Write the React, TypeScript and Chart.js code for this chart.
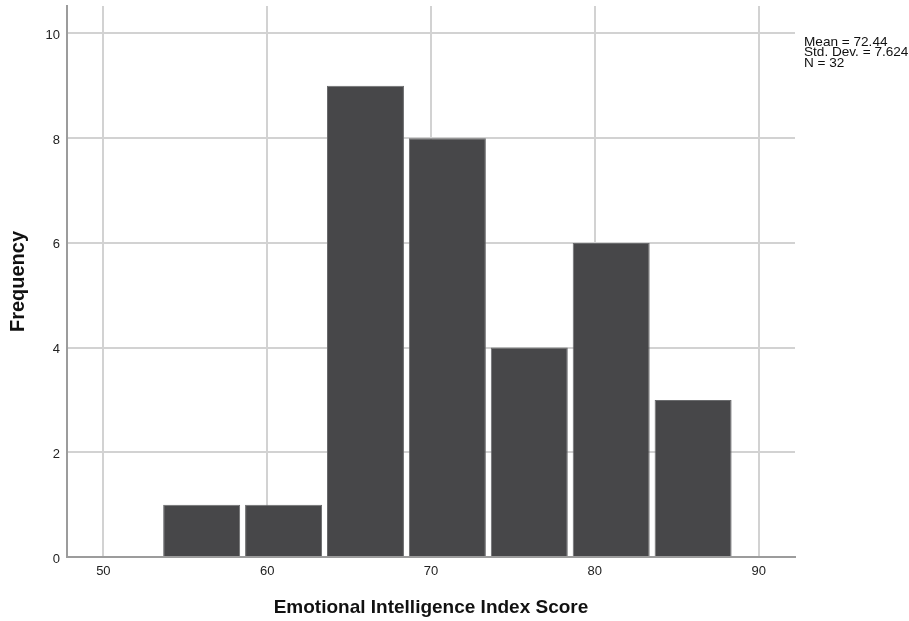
import React, { useEffect, useRef } from "react";
import { Chart, registerables } from "chart.js";

Chart.register(...registerables);

const binCenters = [56, 61, 66, 71, 76, 81, 86];
const frequencies = [1, 1, 9, 8, 4, 6, 3];
const xTicks = [50, 60, 70, 80, 90];
const yTicks = [0, 2, 4, 6, 8, 10];
const statLines = ["Mean = 72.44", "Std. Dev. = 7.624", "N = 32"];
const xTitle = "Emotional Intelligence Index Score";
const yTitle = "Frequency";

const FONT = "'Liberation Sans', Arial, sans-serif";

const statsPlugin = {
  id: "stats",
  afterDraw(chart: any) {
    const ctx = chart.ctx;
    ctx.save();
    ctx.font = `13.6px ${FONT}`;
    ctx.fillStyle = "#111";
    ctx.textAlign = "left";
    ctx.textBaseline = "alphabetic";
    statLines.forEach((t, i) => {
      ctx.fillText(t, chart.chartArea.right + 9, 45.5 + i * 10.8);
    });
    ctx.restore();
  },
};

export default function App() {
  const ref = useRef<HTMLCanvasElement | null>(null);
  useEffect(() => {
    if (!ref.current) return;
    const chart = new Chart(ref.current, {
      type: "bar",
      data: {
        datasets: [
          {
            data: binCenters.map((x, i) => ({ x, y: frequencies[i] })),
            backgroundColor: "#474749",
            borderColor: "#6a6b6d",
            borderWidth: 1,
            borderSkipped: "bottom",
            barPercentage: 0.94,
            categoryPercentage: 1,
          },
        ],
      },
      options: {
        animation: false,
        responsive: false,
        maintainAspectRatio: false,
        layout: { padding: { top: 6, right: 114, left: 0, bottom: 0 } },
        plugins: {
          legend: { display: false },
          tooltip: { enabled: false },
        },
        scales: {
          x: {
            type: "linear",
            min: 47.78,
            max: 92.22,
            offset: false,
            afterFit: (s: any) => {
              s.height = 64;
              s.paddingLeft = 0;
              s.paddingRight = 0;
            },
            afterBuildTicks: (s: any) => {
              s.ticks = xTicks.map((v) => ({ value: v }));
            },
            grid: {
              offset: false,
              color: "#d2d2d2",
              lineWidth: 2,
              drawTicks: false,
            },
            border: { color: "#9c9c9c", width: 2 },
            ticks: {
              padding: 7,
              color: "#222",
              font: { family: FONT, size: 13 },
              maxRotation: 0,
            },
            title: {
              display: true,
              text: xTitle,
              color: "#111",
              font: { family: FONT, size: 19, weight: "bold" },
              padding: { top: 0, bottom: 2 },
            },
          },
          y: {
            type: "linear",
            min: 0,
            max: 10.525,
            afterFit: (s: any) => {
              s.width = 67;
              s.paddingTop = 0;
              s.paddingBottom = 0;
            },
            afterBuildTicks: (s: any) => {
              s.ticks = yTicks.map((v) => ({ value: v }));
            },
            grid: {
              color: "#d2d2d2",
              lineWidth: 2,
              drawTicks: false,
            },
            border: { color: "#9c9c9c", width: 2 },
            ticks: {
              padding: 7,
              labelOffset: 2,
              color: "#222",
              font: { family: FONT, size: 13 },
            },
            title: {
              display: true,
              text: yTitle,
              color: "#111",
              font: { family: FONT, size: 20, weight: "bold" },
              padding: { top: 6, bottom: 0 },
            },
          },
        },
      },
      plugins: [statsPlugin],
    });
    return () => chart.destroy();
  }, []);
  return (
    <div style={{ position: "fixed", left: 0, top: 0, width: 909, height: 621, background: "#fff" }}>
      <canvas ref={ref} width={909} height={621} style={{ width: 909, height: 621, display: "block" }} />
    </div>
  );
}
